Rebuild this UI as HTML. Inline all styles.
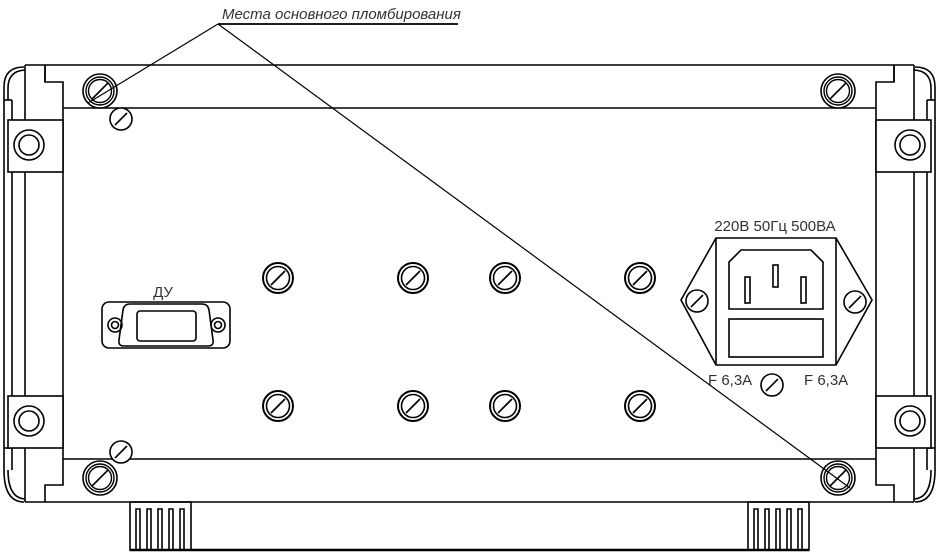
<!DOCTYPE html>
<html><head><meta charset="utf-8"><style>
html,body{margin:0;padding:0;background:#fff;}
svg{display:block;}
text{font-family:"Liberation Sans Narrow","Liberation Sans","DejaVu Sans Condensed",sans-serif;fill:#333;}
</style></head><body>
<svg width="939" height="554" viewBox="0 0 939 554" xmlns="http://www.w3.org/2000/svg">
<defs>
<g id="scr"><circle r="15" fill="#fff" stroke="#000" stroke-width="2"/><circle r="11.5" fill="none" stroke="#000" stroke-width="1.6"/><line x1="-7" y1="7" x2="7" y2="-7" stroke="#000" stroke-width="1.8"/></g>
<g id="sm"><circle r="11" fill="#fff" stroke="#000" stroke-width="1.6"/><line x1="-6" y1="6" x2="6" y2="-6" stroke="#000" stroke-width="1.6"/></g>
<g id="seal"><circle r="17" fill="#fff" stroke="#000" stroke-width="1.6"/><circle r="14" fill="none" stroke="#000" stroke-width="1.4"/><circle r="11.5" fill="none" stroke="#000" stroke-width="1.4"/><line x1="-8" y1="8" x2="8" y2="-8" stroke="#000" stroke-width="1.6"/></g>
<g id="side" fill="none" stroke="#000" stroke-width="1.6">
<path d="M4,100 L4,470 Q4,502 24,502"/>
<path d="M4,100 L4,87 Q4,67 24,67"/>
<path d="M8,100 L8,88 Q8,71 25,70"/>
<path d="M8,470 Q8,498 25,499"/>
<line x1="4" y1="100" x2="12" y2="100"/><line x1="12" y1="100" x2="12" y2="120"/>
<line x1="12" y1="172" x2="12" y2="396"/>
<line x1="4" y1="448" x2="12" y2="448"/><line x1="12" y1="448" x2="12" y2="470"/>
<line x1="25" y1="65" x2="25" y2="502"/>
<polyline points="25,65 45,65 45,82 63,82 63,108"/>
<polyline points="25,502 45,502 45,485 63,485 63,459"/>
<line x1="45" y1="65" x2="45" y2="82"/>
<line x1="63" y1="108" x2="63" y2="459"/>
<rect x="8" y="120" width="55" height="52" fill="#fff"/>
<rect x="8" y="396" width="55" height="52" fill="#fff"/>
<circle cx="29" cy="145" r="15"/><circle cx="29" cy="145" r="10"/>
<circle cx="29" cy="421" r="15"/><circle cx="29" cy="421" r="10"/>
</g>
<g id="foot" fill="none" stroke="#000" stroke-width="1.6">
<rect x="0" y="0" width="61" height="48"/>
<path d="M6,48V7h4v41M17,48V7h4v41M28,48V7h4v41M39,48V7h4v41M50,48V7h4v41"/>
</g>
</defs>
<g fill="none" stroke="#000" stroke-width="1.6">
<line x1="45" y1="65" x2="894" y2="65"/>
<line x1="63" y1="108" x2="876" y2="108"/>
<line x1="63" y1="459" x2="876" y2="459"/>
<line x1="45" y1="502" x2="894" y2="502"/>
<line x1="130" y1="550" x2="809" y2="550" stroke-width="2.5"/>
</g>
<use href="#side"/>
<use href="#side" transform="translate(939,0) scale(-1,1)"/>
<use href="#foot" x="130" y="502"/>
<use href="#foot" x="748" y="502"/>
<use href="#seal" x="100" y="91"/>
<use href="#seal" x="838" y="91"/>
<use href="#seal" x="100" y="478"/>
<use href="#seal" x="838" y="478"/>
<use href="#sm" x="121" y="119"/>
<use href="#sm" x="121" y="452"/>
<use href="#scr" x="278" y="278"/><use href="#scr" x="413" y="278"/><use href="#scr" x="505" y="278"/><use href="#scr" x="640" y="278"/>
<use href="#scr" x="278" y="406"/><use href="#scr" x="413" y="406"/><use href="#scr" x="505" y="406"/><use href="#scr" x="640" y="406"/>
<!-- DB connector -->
<g fill="none" stroke="#000" stroke-width="1.6">
<rect x="102" y="302" width="128" height="46" rx="7"/>
<path d="M130,304 L202,304 Q208,304 209,310 L213,340 Q214,346 208,346 L124,346 Q118,346 119,340 L123,310 Q124,304 130,304Z"/>
<rect x="137" y="311" width="59" height="30" rx="3"/>
<circle cx="115" cy="325" r="7"/><circle cx="115" cy="325" r="3.5"/>
<circle cx="218" cy="325" r="7"/><circle cx="218" cy="325" r="3.5"/>
</g>
<text x="163" y="297" font-size="15" text-anchor="middle">ДУ</text>
<!-- power module -->
<g fill="none" stroke="#000" stroke-width="1.6">
<polygon points="716,238 836,238 872,300 836,365 716,365 681,300"/>
<line x1="716" y1="238" x2="716" y2="365"/><line x1="836" y1="238" x2="836" y2="365"/>
<path d="M729,309 V262 L741,250 H811 L823,262 V309 Z"/>
<rect x="745" y="277" width="5" height="26"/>
<rect x="773" y="265" width="5" height="22"/>
<rect x="801" y="277" width="5" height="26"/>
<rect x="729" y="319" width="94" height="38"/>
</g>
<use href="#sm" x="697" y="301"/>
<use href="#sm" x="855" y="302"/>
<use href="#sm" x="772" y="385"/>
<text x="775" y="231" font-size="15" text-anchor="middle">220В 50Гц 500ВА</text>
<text x="708" y="385" font-size="15">F 6,3A</text>
<text x="804" y="385" font-size="15">F 6,3A</text>
<!-- label and leaders -->
<text x="222" y="19" font-size="15" font-style="italic">Места основного пломбирования</text>
<g stroke="#000" fill="none">
<line x1="218" y1="24" x2="458" y2="24" stroke-width="1.8"/>
<line x1="218" y1="24" x2="88" y2="103" stroke-width="1.2"/>
<line x1="218" y1="24" x2="850" y2="488" stroke-width="1.2"/>
</g>
</svg>
</body></html>
